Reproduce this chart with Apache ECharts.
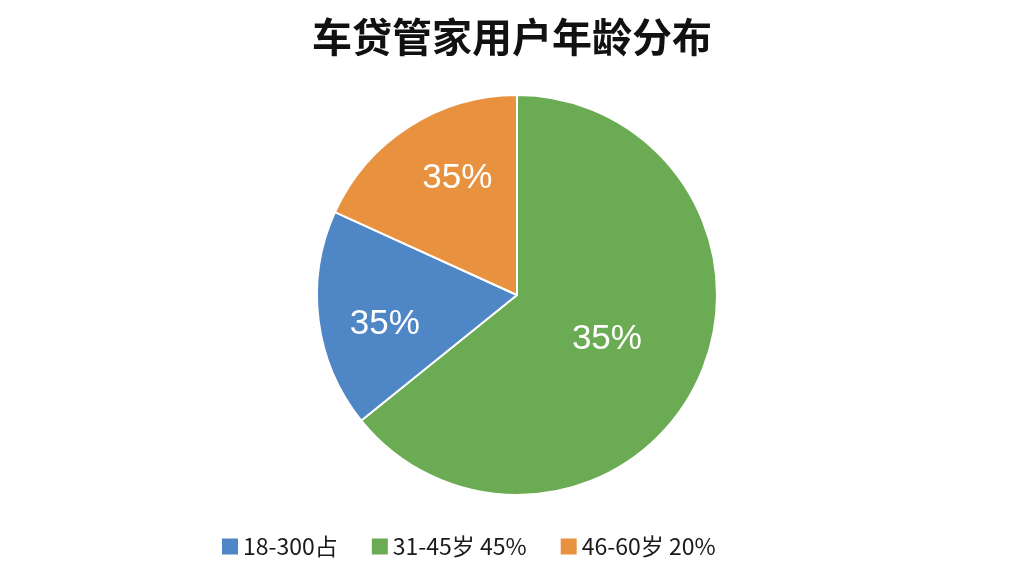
<!DOCTYPE html>
<html><head><meta charset="utf-8">
<script src="https://cdn.jsdelivr.net/npm/echarts@6/dist/echarts.min.js"></script>
<style>html,body{margin:0;padding:0;background:#fff}#c{width:1024px;height:576px}</style>
</head><body><div id="c"></div>
<script>
var titleText = '车贷管家用户年龄分布';
var categories = ['31-45岁 45%', '18-300占', '46-60岁 20%'];
var values = [64.2, 17.6, 18.2];
var sliceLabels = ['35%', '35%', '35%'];
var legendOrder = ['18-300占', '31-45岁 45%', '46-60岁 20%'];

var colors = ['#6aab53', '#4f86c6', '#e8913f'];
var labelOffsets = [[-3, 0], [-30, 16], [-4, -30]];

var data = categories.map(function (c, i) {
  return {
    name: c, value: values[i],
    itemStyle: { color: colors[i] },
    label: { formatter: sliceLabels[i], offset: labelOffsets[i] }
  };
});

var chart = echarts.init(document.getElementById('c'));
chart.setOption({
  backgroundColor: '#ffffff',
  animation: false,
  title: {
    text: titleText, left: 'center', top: 12,
    textStyle: { fontFamily: 'Noto Sans CJK SC', fontSize: 40, fontWeight: 'bold', color: '#111' }
  },
  legend: {
    data: legendOrder, left: 217, top: 530, padding: 5,
    icon: 'rect', itemWidth: 16, itemHeight: 16, itemGap: 34, itemStyle: { borderWidth: 0 },
    textStyle: { fontFamily: 'Noto Sans CJK SC', fontSize: 23, color: '#1a1a1a' }
  },
  series: [{
    type: 'pie',
    center: [517, 295],
    radius: [0, 200],
    startAngle: 90,
    clockwise: true,
    itemStyle: { borderColor: '#fff', borderWidth: 2 },
    label: {
      position: 'inside', color: '#fff', fontSize: 35,
      fontFamily: '"Liberation Sans", Arial, sans-serif'
    },
    labelLine: { show: false },
    data: data
  }]
});
</script></body></html>
